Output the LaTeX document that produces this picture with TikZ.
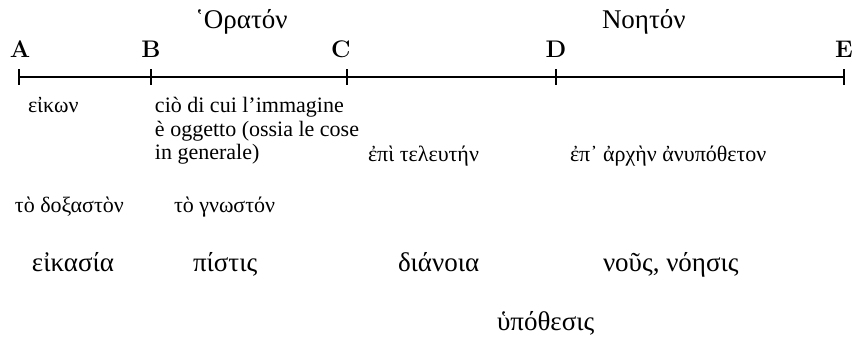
\documentclass[tikz,border=0pt]{standalone}
\usepackage{fontspec}
\newfontfamily\grfont{Liberation Serif}
\begin{document}
\begin{tikzpicture}[x=0.5pt,y=-0.5pt]
\useasboundingbox (0,0) rectangle (853,338);
\begin{scope}[every node/.style={inner sep=0pt,outer sep=0pt,anchor=base}]
    \node[anchor=base west,font=\grfont\fontsize{13.5}{15}\selectfont] (orat) at (195,28) {῾Ορατόν};
    \node[anchor=base west,font=\grfont\fontsize{13.5}{15}\selectfont] (noet) at (602,28) {Νοητόν};
    \node[font=\bfseries\fontsize{12}{14}\selectfont] (A) at (20,57) {A};
    \node[font=\bfseries\fontsize{12}{14}\selectfont] (B) at (151,57) {B};
    \node[font=\bfseries\fontsize{12}{14}\selectfont] (C) at (341,57) {C};
    \node[font=\bfseries\fontsize{12}{14}\selectfont] (D) at (556,57) {D};
    \node[font=\bfseries\fontsize{12}{14}\selectfont] (E) at (844,57) {E};
\end{scope}
\coordinate (a) at (19,77);
\coordinate (b) at (151,77);
\coordinate (c) at (347,77);
\coordinate (d) at (556,77);
\coordinate (e) at (844,77);
\draw[line width=0.8pt] (a) -- (b) -- (c) -- (d) -- (e);
\foreach \p in {a,b,c,d,e}
    \draw[line width=0.8pt] (\p) +(0,-8) -- +(0,8);
\begin{scope}[every node/.style={inner sep=0pt,outer sep=0pt,anchor=base west,
              font=\grfont\fontsize{11}{13}\selectfont}]
    \node (eikon) at (28,112) {εἰκων};
    \node[anchor=west,align=left,font=\grfont\fontsize{11}{11.75}\selectfont] (cose) at (155,131)
        {ciò di cui l’immagine\\è oggetto (ossia le cose\\in generale)};
    \node (teleut) at (368,161) {ἐπὶ τελευτήν};
    \node (arche) at (570,161) {ἐπ᾿ ἀρχὴν ἀνυπόθετον};
    \node (doxast) at (15,212) {τὸ δοξαστὸν};
    \node (gnost) at (174,212) {τὸ γνωστόν};
\end{scope}
\begin{scope}[every node/.style={inner sep=0pt,outer sep=0pt,anchor=base west,
              font=\grfont\fontsize{13.5}{15}\selectfont}]
    \node (eikas) at (32,271) {εἰκασία};
    \node (pist) at (193,271) {πίστις};
    \node (dian) at (398,271) {διάνοια};
    \node (nous) at (603,271) {νοῦς, νόησις};
    \node (hypo) at (497,330) {ὑπόθεσις};
\end{scope}
\end{tikzpicture}
\end{document}
